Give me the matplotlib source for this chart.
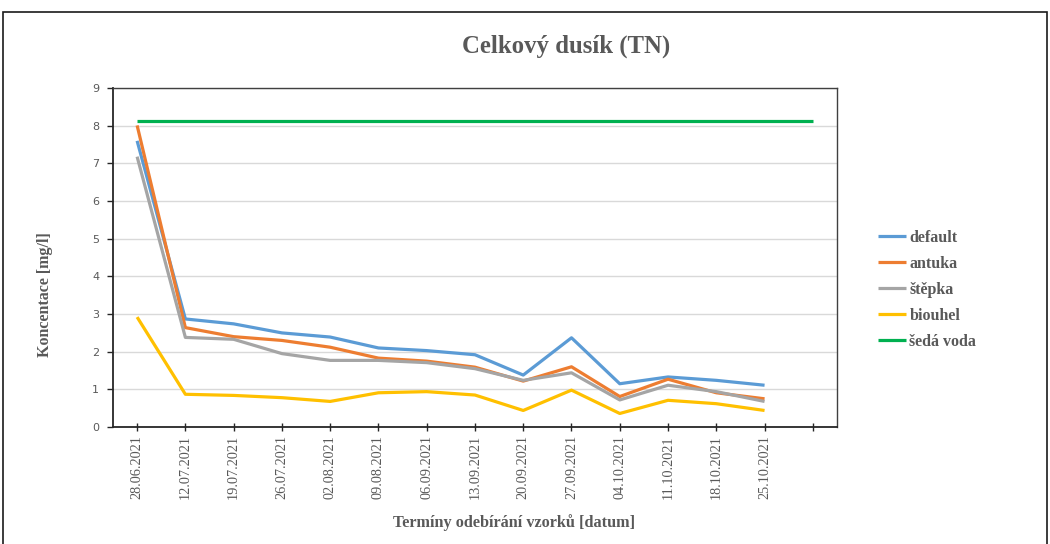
import matplotlib
matplotlib.use('Agg')
import matplotlib.pyplot as plt
from matplotlib.patches import Rectangle

# sampling dates (the last, empty category only carries the grey-water line)
dates = ['28.06.2021', '12.07.2021', '19.07.2021', '26.07.2021', '02.08.2021',
         '09.08.2021', '06.09.2021', '13.09.2021', '20.09.2021', '27.09.2021',
         '04.10.2021', '11.10.2021', '18.10.2021', '25.10.2021', '']

default = [7.60, 2.87, 2.74, 2.50, 2.39, 2.10, 2.03, 1.92, 1.38, 2.37, 1.15, 1.33, 1.24, 1.11]
antuka = [8.01, 2.64, 2.40, 2.30, 2.12, 1.83, 1.75, 1.59, 1.22, 1.60, 0.81, 1.27, 0.91, 0.75]
stepka = [7.18, 2.38, 2.33, 1.95, 1.77, 1.77, 1.71, 1.55, 1.24, 1.44, 0.72, 1.11, 0.94, 0.68]
biouhel = [2.92, 0.87, 0.84, 0.78, 0.68, 0.91, 0.94, 0.85, 0.44, 0.98, 0.36, 0.71, 0.62, 0.44]
seda_voda = [8.14] * 15

series = [
    ('default', default, '#5B9BD5'),
    ('antuka', antuka, '#ED7D31'),
    ('štěpka', stepka, '#A5A5A5'),
    ('biouhel', biouhel, '#FFC000'),
    ('šedá voda', seda_voda, '#00B050'),
]

text_c = '#595959'
serif = ['Liberation Serif', 'DejaVu Serif']

fig = plt.figure(figsize=(10.5, 5.44), dpi=100)
fig.patches.append(Rectangle((0.003, -0.05), 0.994, 1.028, transform=fig.transFigure,
                             fill=False, edgecolor='#1a1a1a', linewidth=1.2))

ax = fig.add_axes([0.1076, 0.215, 0.6895, 0.623])

for name, vals, c in series:
    ax.plot(range(len(vals)), vals, color=c, linewidth=2.3, label=name,
            solid_capstyle='butt', solid_joinstyle='round')

ax.set_xlim(-0.5, len(dates) - 0.5)
ax.set_ylim(0, 9)
ax.set_yticks(range(10))
ax.set_xticks(range(len(dates)))
ax.set_xticklabels(dates, rotation=90, fontsize=10.3, color=text_c, family=serif)
for lab in ax.get_yticklabels():
    lab.set_fontsize(8)
    lab.set_color(text_c)
ax.tick_params(axis='x', direction='inout', length=6, width=1, color='#262626', pad=3)
ax.tick_params(axis='y', direction='out', length=4, width=1, color='#262626', pad=6)
ax.grid(axis='y', color='#d9d9d9', linewidth=1)
ax.set_axisbelow(True)
for side in ['left', 'bottom']:
    ax.spines[side].set_color('#262626')
    ax.spines[side].set_linewidth(1.3)
for side in ['top', 'right']:
    ax.spines[side].set_color('#404040')
    ax.spines[side].set_linewidth(1.0)

fig.text(0.539, 0.914, 'Celkový dusík (TN)', ha='center', va='center',
         fontsize=17.8, fontweight='bold', color=text_c, family=serif)
fig.text(0.043, 0.458, 'Koncentace [mg/l]', ha='center', va='center', rotation=90,
         fontsize=11.5, fontweight='bold', color=text_c, family=serif)
fig.text(0.49, 0.04, 'Termíny odebírání vzorků [datum]', ha='center', va='center',
         fontsize=11.7, fontweight='bold', color=text_c, family=serif)

leg = ax.legend(loc='center left', bbox_to_anchor=(1.037, 0.405), frameon=False,
                handlelength=1.75, handletextpad=0.2, labelspacing=0.63,
                prop={'family': serif, 'weight': 'bold', 'size': 11.5})
for t in leg.get_texts():
    t.set_color(text_c)

fig.savefig('out.png', dpi=100)
